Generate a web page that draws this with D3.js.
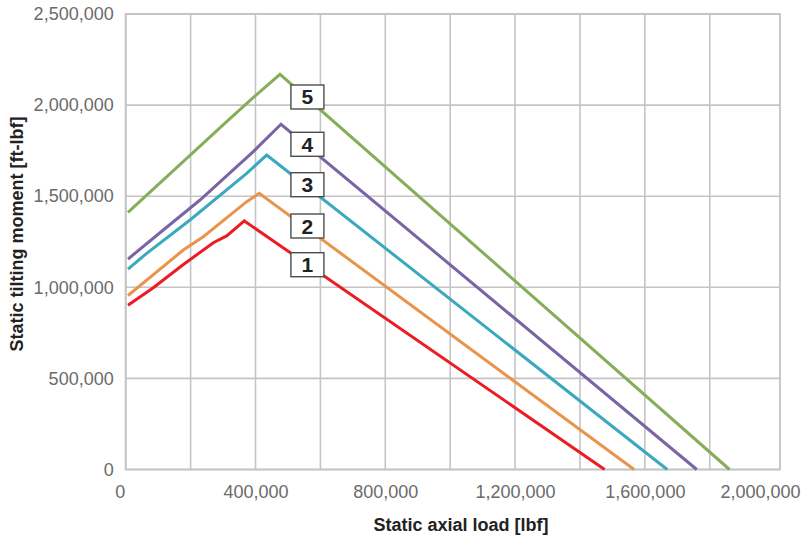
<!DOCTYPE html>
<html><head><meta charset="utf-8">
<script src="https://cdn.jsdelivr.net/npm/d3@7"></script>
<style>
html,body{margin:0;padding:0;background:#fff;}
svg{display:block;}
</style></head>
<body>
<svg id="chart" width="801" height="540"></svg>
<script>
// ---- data ----
const seriesNames = ["1", "2", "3", "4", "5"];
const seriesColors = ["#ec1c24", "#e8954b", "#3aa9be", "#7b64a6", "#88ad5a"];
// axial load [lbf]
const load1 = [7000, 85000, 172600, 270000, 311200, 365500, 1476000];
const moment1 = [902000, 997800, 1118600, 1244800, 1282000, 1364000, 0];
const load2 = [7000, 177500, 239100, 372900, 411700, 1567000];
const moment2 = [955000, 1204700, 1277700, 1469800, 1516000, 0];
const load3 = [7000, 64700, 198200, 372900, 434500, 1669000];
const moment3 = [1100000, 1186600, 1369500, 1625700, 1726000, 0];
const load4 = [7000, 115900, 229000, 393200, 478600, 1760000];
const moment4 = [1155000, 1314500, 1479100, 1745000, 1894600, 0];
const load5 = [7000, 311200, 396300, 475500, 1861000];
const moment5 = [1411000, 1908900, 2046100, 2169000, 0];
const loads = [load1, load2, load3, load4, load5];
const moments = [moment1, moment2, moment3, moment4, moment5];
// label anchors (data units)
const labelLoad = [560000, 560000, 560000, 560000, 560000];
const labelMoment = [1124000, 1336400, 1563100, 1784900, 2044500];

const xTicks = [0, 400000, 800000, 1200000, 1600000, 2000000];
const xGrid = [0, 200000, 400000, 600000, 800000, 1000000, 1200000, 1400000, 1600000, 1800000];
const yTicks = [0, 500000, 1000000, 1500000, 2000000, 2500000];
const xTitle = "Static axial load [lbf]";
const yTitle = "Static tilting moment [ft-lbf]";

// ---- layout ----
const L = 125.7, R = 780, T = 14, B = 469.5;
const svg = d3.select("#chart");
const x = d3.scaleLinear().domain([0, 2000000]).range([L, L + (R - L) * 2000000 / 2016500]);
const y = d3.scaleLinear().domain([0, 2500000]).range([B, T]);
const fmt = d3.format(",");
const gridColor = "#c4c4c6";

// grid
const g = svg.append("g");
g.selectAll("line.vg").data(xGrid).enter().append("line")
  .attr("x1", d => x(d)).attr("x2", d => x(d)).attr("y1", T).attr("y2", B)
  .attr("stroke", gridColor).attr("stroke-width", 1.6);
g.selectAll("line.hg").data(yTicks).enter().append("line")
  .attr("x1", L).attr("x2", R).attr("y1", d => y(d)).attr("y2", d => y(d))
  .attr("stroke", gridColor).attr("stroke-width", 1.6);
g.append("rect").attr("x", L).attr("y", T).attr("width", R - L).attr("height", B - T)
  .attr("fill", "none").attr("stroke", gridColor).attr("stroke-width", 1.8);

// y tick labels via axis
const yAxis = svg.append("g").attr("transform", `translate(${L},0)`)
  .call(d3.axisLeft(y).tickValues(yTicks).tickFormat(fmt).tickSize(0).tickPadding(12));
yAxis.select(".domain").remove();
yAxis.selectAll("text").attr("font-family", "'Liberation Sans', Arial, sans-serif")
  .attr("font-size", 18).attr("fill", "#6b6b6b");

// x tick labels
const xAxis = svg.append("g").attr("transform", `translate(0,${B})`)
  .call(d3.axisBottom(x).tickValues(xTicks).tickFormat(fmt).tickSize(0).tickPadding(16));
xAxis.select(".domain").remove();
xAxis.selectAll("text").attr("font-family", "'Liberation Sans', Arial, sans-serif")
  .attr("font-size", 18).attr("fill", "#6b6b6b");
xAxis.selectAll(".tick").filter(d => d === 2000000).select("text")
  .attr("text-anchor", "end").attr("x", 800 - x(2000000));
xAxis.selectAll(".tick").filter(d => d === 0).select("text").attr("x", -6);

// lines
const line = d3.line().x(d => x(d[0])).y(d => y(d[1]));
seriesNames.forEach((n, i) => {
  const pts = loads[i].map((v, j) => [v, moments[i][j]]);
  svg.append("path").datum(pts).attr("d", line)
    .attr("fill", "none").attr("stroke", seriesColors[i]).attr("stroke-width", 3)
    .attr("stroke-linejoin", "miter");
});

// labels
seriesNames.forEach((n, i) => {
  const cx = x(labelLoad[i]), cy = y(labelMoment[i]);
  svg.append("rect").attr("x", cx - 16.5).attr("y", cy - 12).attr("width", 33).attr("height", 24)
    .attr("fill", "#fff").attr("stroke", "#4d4d4d").attr("stroke-width", 1.4);
  svg.append("text").attr("x", cx).attr("y", cy + 7.5).attr("text-anchor", "middle")
    .attr("font-family", "'Liberation Sans Narrow', 'Liberation Sans', Arial, sans-serif")
    .attr("font-weight", "bold").attr("font-size", 21).attr("fill", "#222").text(n);
});

// axis titles
svg.append("text").attr("x", 461).attr("y", 531).attr("text-anchor", "middle")
  .attr("font-family", "'Liberation Sans Narrow', 'Liberation Sans', Arial, sans-serif")
  .attr("font-weight", "bold").attr("font-size", 18).attr("fill", "#222").text(xTitle);
svg.append("text").attr("transform", "translate(23,234) rotate(-90)").attr("text-anchor", "middle")
  .attr("font-family", "'Liberation Sans Narrow', 'Liberation Sans', Arial, sans-serif")
  .attr("font-weight", "bold").attr("font-size", 18).attr("fill", "#222").text(yTitle);
</script>
</body></html>
